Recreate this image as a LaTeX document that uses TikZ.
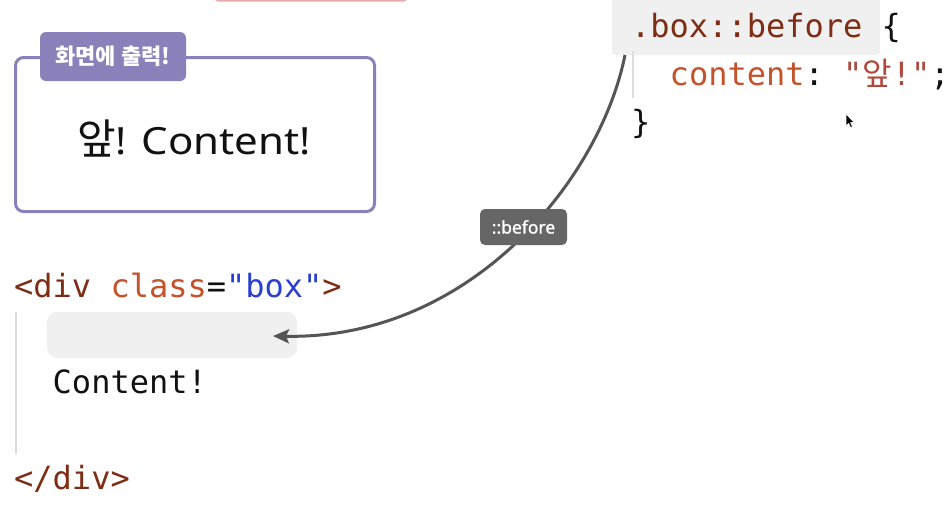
\documentclass[tikz,border=0pt]{standalone}
\usepackage{fontspec}
\usetikzlibrary{arrows.meta}
\setmonofont{DejaVu Sans Mono}
\newfontfamily\kr{Noto Sans CJK KR}
\newfontfamily\latn[FakeStretch=1.12]{Noto Sans}
\newfontfamily\lbl[FakeBold=1.2]{Noto Sans}
\definecolor{tagbrown}{HTML}{7D2D14}
\definecolor{attr}{HTML}{C4532B}
\definecolor{strblue}{HTML}{2A3FD0}
\definecolor{cssstr}{HTML}{B04A3E}
\definecolor{ink}{HTML}{111111}
\definecolor{violet}{HTML}{8A80BA}
\definecolor{tagbg}{HTML}{666666}
\definecolor{curve}{HTML}{555555}
\definecolor{codebg}{HTML}{F0F0F0}
\definecolor{guide}{HTML}{DDDDDD}
\definecolor{pinkbar}{HTML}{EBAAAA}
\begin{document}
\begin{tikzpicture}[x=1pt,y=-1pt,
  code/.style={anchor=base west,inner sep=0pt,text=ink,
    font=\ttfamily\fontsize{32}{38}\selectfont},
  outbox/.style={draw=violet,line width=3pt,rounded corners=8pt,
    minimum width=359pt,minimum height=154pt,fill=white},
  tabbox/.style={fill=violet,rounded corners=6pt,minimum width=146pt,
    minimum height=49pt,text=white,inner sep=0pt,
    font=\kr\bfseries\fontsize{22}{26}\selectfont},
  slotbox/.style={fill=codebg,rounded corners=10pt,minimum width=250pt,
    minimum height=46pt,inner sep=0pt},
  tagbox/.style={fill=tagbg,rounded corners=5pt,minimum width=87pt,
    minimum height=36pt,inner sep=0pt,text=white,
    font=\lbl\fontsize{17.5}{20}\selectfont},
  guideline/.style={draw=guide,line width=2.5pt},
  link/.style={draw=curve,line width=3pt,
    -{Stealth[length=16pt,width=14pt,inset=3pt]}}]
\useasboundingbox[fill=white] (0,0) rectangle (948,504);

% partial pink bar at top
\fill[pinkbar,rounded corners=3pt] (215,-6) rectangle (407,1.5);

% rendered output box
\node[outbox] (out) at (195,134.5) {};
\node[tabbox] (tab) at (113,56.5) {화면에 출력!};
\node[anchor=base west,inner sep=0pt,text=ink] (outtxt) at (77,154)
  {{\kr\fontsize{42}{48}\selectfont 앞}{\latn\fontsize{37.5}{44}\selectfont ! Content!}};

% CSS code
\node[fill=codebg,minimum width=268pt,minimum height=60pt,inner sep=0pt,
  rounded corners=3pt] (cssbg) at (746,25) {};
\draw[guideline,line width=2pt] (633,51) -- (633,98);
\node[code] (sel) at (631,37) {{\color{tagbrown}.box::before}\ \{};
\node[code] (decl) at (631,85) {\ \ {\color{attr}content}: {\color{cssstr}"{\kr 앞}!"};};
\node[code] (close) at (631,133) {\}};

% HTML code
\draw[guideline] (16,312) -- (16,454);
\node[slotbox] (slot) at (172,335) {};
\node[code] (open) at (14,297) {{\color{tagbrown}<div} {\color{attr}class}={\color{strblue}"box"}{\color{tagbrown}>}};
\node[code] (txt) at (14,393) {\ \ Content!};
\node[code] (endtag) at (14,489) {{\color{tagbrown}</div>}};

% connector
\coordinate (cssfrom) at (625,55);
\coordinate (tip) at (273,336);
\draw[link] (cssfrom) .. controls (600,180) and (470,340) .. (tip);
\node[tagbox] (before) at (523.5,227) {::before};

% mouse cursor
\filldraw[fill=black,draw=white,line width=0.6pt]
  (846,114) -- (846,126) -- (848.8,123.4) -- (850.6,127.6) -- (852.4,126.8)
  -- (850.6,122.6) -- (854.2,122.4) -- cycle;
\end{tikzpicture}
\end{document}
